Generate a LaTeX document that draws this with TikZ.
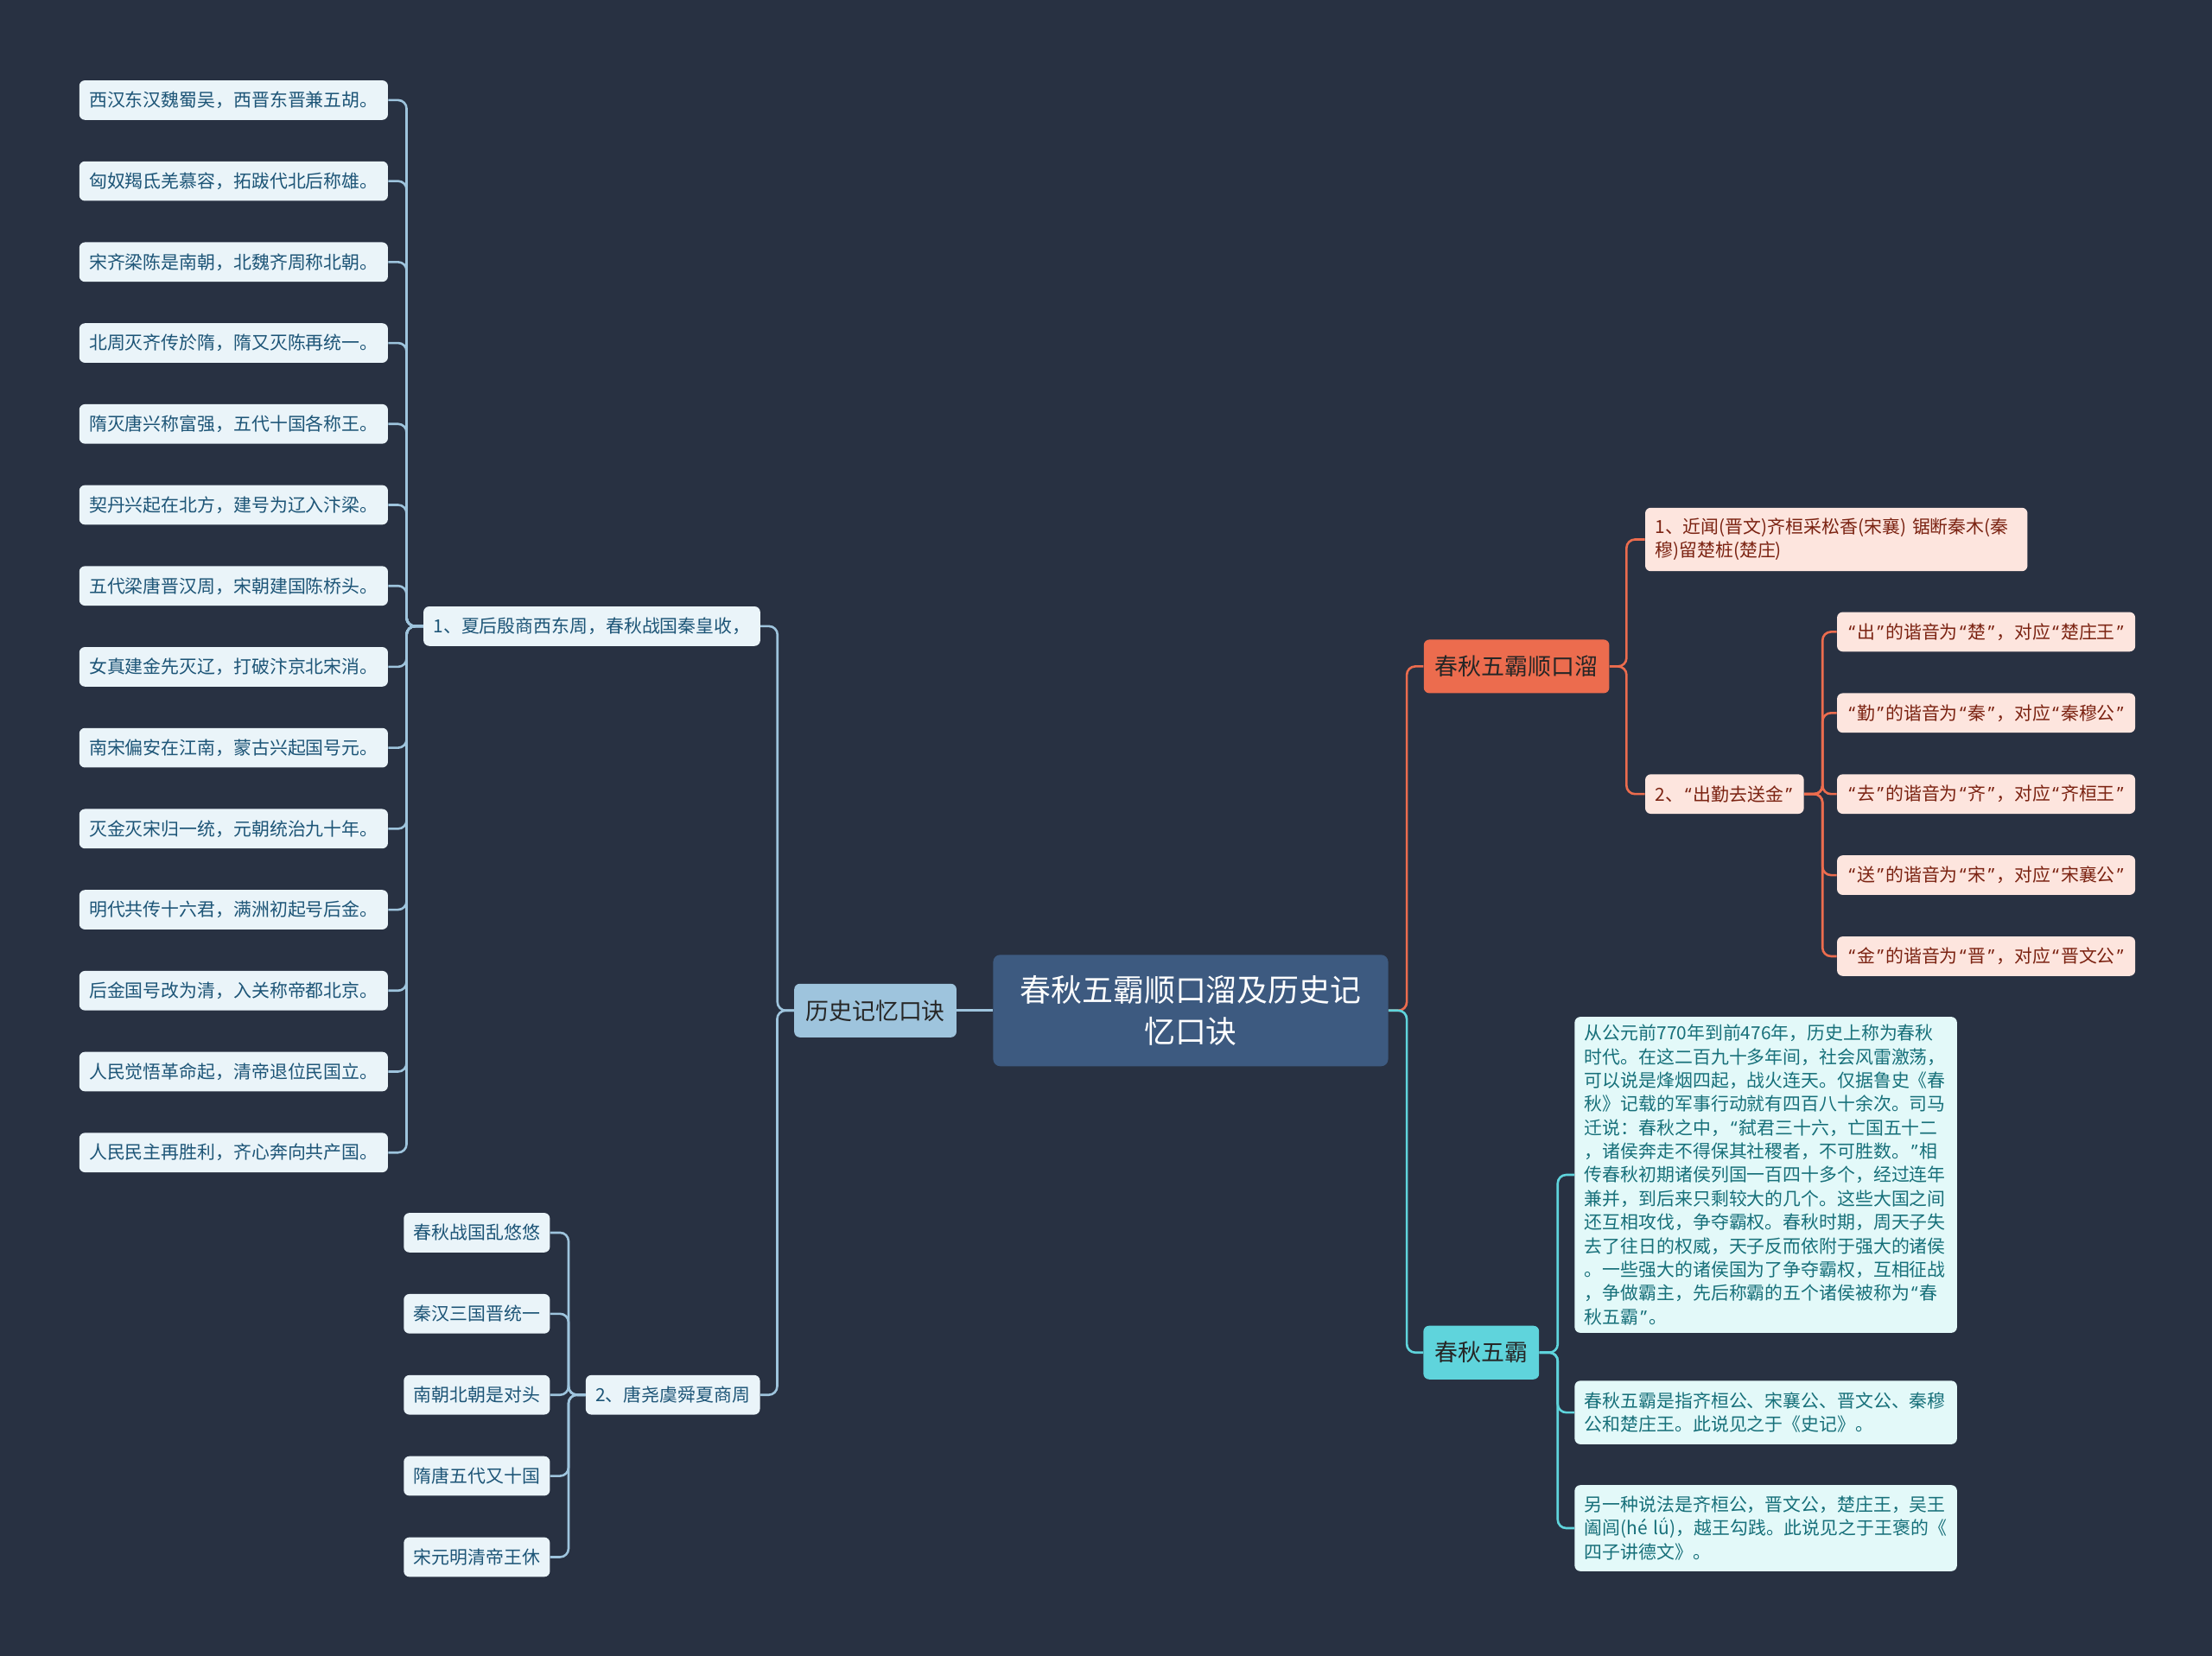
\documentclass[tikz,border=0pt]{standalone}
\usepackage{fontspec}
\setmainfont{Noto Sans CJK SC}
\newfontfamily\quotefont{Noto Sans}
\newcommand\lqt{{\kern1.35pt\quotefont “\kern1.35pt}}
\newcommand\rqt{{\kern1.35pt\quotefont ”\kern1.35pt}}
\usepackage{xcolor}
\usepackage{tikz}

\definecolor{bgnavy}{HTML}{283142}
\definecolor{rootblue}{HTML}{3D5A80}
\definecolor{histblue}{HTML}{9EC4DD}
\definecolor{histpale}{HTML}{EAF4F9}
\definecolor{histtext}{HTML}{1D5577}
\definecolor{rhymered}{HTML}{EC6C4E}
\definecolor{rhymepale}{HTML}{FDE5DE}
\definecolor{rhymetext}{HTML}{7B2312}
\definecolor{hegcyan}{HTML}{5FD4DC}
\definecolor{hegpale}{HTML}{E3F9F9}
\definecolor{hegtext}{HTML}{17707A}

\begin{document}
\begin{tikzpicture}[x=1pt,y=-1pt,
  box/.style={rounded corners=4pt, inner xsep=7pt, inner ysep=3pt, minimum height=28pt,
    font=\fontsize{12.8}{16.75}\selectfont, align=left, anchor=west},
  histleaf/.style={box, fill=histpale, text=histtext},
  rhymeleaf/.style={box, fill=rhymepale, text=rhymetext},
  hegleaf/.style={box, fill=hegpale, text=hegtext, text width=257pt},
  topic/.style={rounded corners=4pt, inner xsep=8pt, minimum height=38pt,
    font=\fontsize{16.5}{20}\selectfont, text=black!85},
  histline/.style={draw=histblue, line width=1.6pt, rounded corners=6pt},
  rhymeline/.style={draw=rhymered, line width=1.6pt, rounded corners=6pt},
  hegline/.style={draw=hegcyan, line width=1.6pt, rounded corners=6pt}]

  \fill[bgnavy] (0,0) rectangle (1568,1174);
  \useasboundingbox (0,0) rectangle (1568,1174);

  % centre
  \node[rounded corners=5pt, fill=rootblue, text=white, minimum width=280pt, minimum height=79pt,
    align=center, font=\fontsize{22}{29}\selectfont] (root) at (844,716.5)
    {春秋五霸顺口溜及历史记\\忆口诀};

  % left: history rhymes
  \node[topic, fill=histblue] (hist) at (620.5,716.5) {历史记忆口诀};
  \draw[histline] (hist) -- (root);

  \node[histleaf] (verse1) at (300,444) {1、夏后殷商西东周，春秋战国秦皇收，};
  \node[histleaf] (verse2) at (415,989) {2、唐尧虞舜夏商周};
  \draw[histline] (verse1.east) -- ++(12,0) |- (hist.west);
  \draw[histline] (verse2.east) -- ++(12,0) |- (hist.west);

  \foreach \t [count=\i] in {西汉东汉魏蜀吴，西晋东晋兼五胡。,
      匈奴羯氐羌慕容，拓跋代北后称雄。,
      宋齐梁陈是南朝，北魏齐周称北朝。,
      北周灭齐传於隋，隋又灭陈再统一。,
      隋灭唐兴称富强，五代十国各称王。,
      契丹兴起在北方，建号为辽入汴梁。,
      五代梁唐晋汉周，宋朝建国陈桥头。,
      女真建金先灭辽，打破汴京北宋消。,
      南宋偏安在江南，蒙古兴起国号元。,
      灭金灭宋归一统，元朝统治九十年。,
      明代共传十六君，满洲初起号后金。,
      后金国号改为清，入关称帝都北京。,
      人民觉悟革命起，清帝退位民国立。,
      人民民主再胜利，齐心奔向共产国。} {
    \node[histleaf] (dyn\i) at (56,{71+(\i-1)*57.4}) {\t};
    \draw[histline] (dyn\i.east) -- ++(13,0) |- (verse1.west);
  }

  \foreach \t [count=\i] in {春秋战国乱悠悠, 秦汉三国晋统一, 南朝北朝是对头,
      隋唐五代又十国, 宋元明清帝王休} {
    \node[histleaf] (era\i) at (286,{874+(\i-1)*57.5}) {\t};
    \draw[histline] (era\i.east) -- ++(13,0) |- (verse2.west);
  }

  % right: five hegemons rhyme
  \node[topic, fill=rhymered] (rhyme) at (1075,472.5) {春秋五霸顺口溜};
  \draw[rhymeline] (root.east) -- ++(13,0) |- (rhyme.west);

  \node[rhymeleaf, text width=257pt, minimum height=45pt] (pun1) at (1166,382.5)
    {1、近闻(晋文)齐桓采松香(宋襄) 锯断秦木(秦\\穆)留楚桩(楚庄)};
  \node[rhymeleaf] (pun2) at (1166,563) {2、\lqt 出勤去送金\rqt};
  \draw[rhymeline] (rhyme.east) -- ++(12,0) |- (pun1.west);
  \draw[rhymeline] (rhyme.east) -- ++(12,0) |- (pun2.west);

  \foreach \t [count=\i] in {\lqt 出\rqt 的谐音为\lqt 楚\rqt ，对应\lqt 楚庄王\rqt,
      \lqt 勤\rqt 的谐音为\lqt 秦\rqt ，对应\lqt 秦穆公\rqt,
      \lqt 去\rqt 的谐音为\lqt 齐\rqt ，对应\lqt 齐桓王\rqt,
      \lqt 送\rqt 的谐音为\lqt 宋\rqt ，对应\lqt 宋襄公\rqt,
      \lqt 金\rqt 的谐音为\lqt 晋\rqt ，对应\lqt 晋文公\rqt} {
    \node[rhymeleaf] (sound\i) at (1302,{448+(\i-1)*57.5}) {\t};
    \draw[rhymeline] (pun2.east) -- ++(13,0) |- (sound\i.west);
  }

  % right: five hegemons
  \node[topic, fill=hegcyan] (heg) at (1050,959) {春秋五霸};
  \draw[hegline] (root.east) -- ++(13,0) |- (heg.west);

  \node[hegleaf, minimum height=224pt] (story) at (1116,833) {从公元前770年到前476年，历史上称为春秋\\
    时代。在这二百九十多年间，社会风雷激荡，\\
    可以说是烽烟四起，战火连天。仅据鲁史《春\\
    秋》记载的军事行动就有四百八十余次。司马\\
    迁说：春秋之中，\lqt 弑君三十六，亡国五十二\\
    ，诸侯奔走不得保其社稷者，不可胜数。\rqt 相\\
    传春秋初期诸侯列国一百四十多个，经过连年\\
    兼并，到后来只剩较大的几个。这些大国之间\\
    还互相攻伐，争夺霸权。春秋时期，周天子失\\
    去了往日的权威，天子反而依附于强大的诸侯\\
    。一些强大的诸侯国为了争夺霸权，互相征战\\
    ，争做霸主，先后称霸的五个诸侯被称为\lqt 春\\
    秋五霸\rqt 。};
  \node[hegleaf, minimum height=45pt] (shiji) at (1116,1001.5)
    {春秋五霸是指齐桓公、宋襄公、晋文公、秦穆\\公和楚庄王。此说见之于《史记》。};
  \node[hegleaf, minimum height=61pt] (wangbao) at (1116,1083.5)
    {另一种说法是齐桓公，晋文公，楚庄王，吴王\\阖闾(hé lǘ)，越王勾践。此说见之于王褒的《\\四子讲德文》。};
  \draw[hegline] (heg.east) -- ++(13,0) |- (story.west);
  \draw[hegline] (heg.east) -- ++(13,0) |- (shiji.west);
  \draw[hegline] (heg.east) -- ++(13,0) |- (wangbao.west);
\end{tikzpicture}
\end{document}
